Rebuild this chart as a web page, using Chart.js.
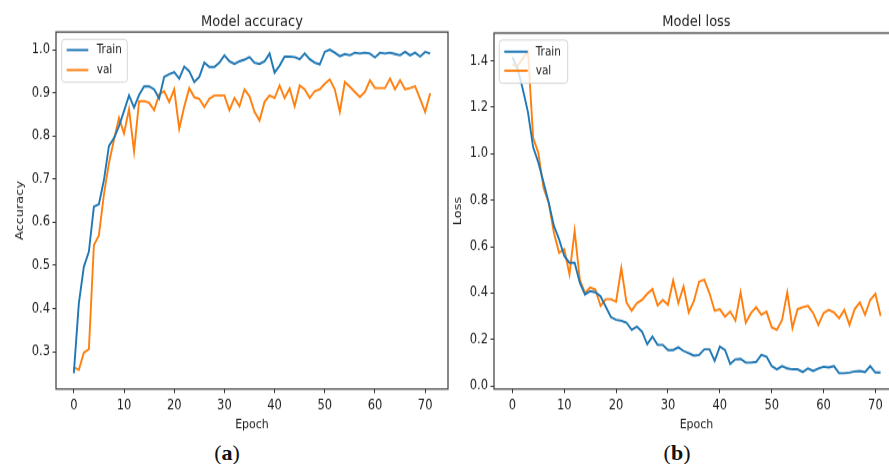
<!DOCTYPE html>
<html>
<head>
<meta charset="utf-8">
<script src="https://cdn.jsdelivr.net/npm/chart.js@4.4.0/dist/chart.umd.min.js"></script>
<style>
  html, body { margin: 0; padding: 0; background: #fff; }
  #page { position: relative; width: 889px; height: 464px; overflow: hidden; }
  #wrapA { position: absolute; left: 0; top: 0; }
  #wrapB { position: absolute; left: 445px; top: 0; }
  .cap { position: absolute; top: 442px; font-family: "Liberation Serif", "DejaVu Serif", serif;
         font-size: 22px; line-height: 22px; color: #111; transform: translateX(-50%); white-space: nowrap; }
</style>
</head>
<body>
<div id="page">
  <!-- the source figure is stretched vertically, so the canvases are too -->
  <div id="wrapA"><canvas id="accChart" width="449" height="373" style="width:449px;height:440px"></canvas></div>
  <div id="wrapB"><canvas id="lossChart" width="460" height="373" style="width:460px;height:440px"></canvas></div>
  <div class="cap" style="left:227px">(<b>a</b>)</div>
  <div class="cap" style="left:677px">(<b>b</b>)</div>
</div>
<script>
// epochs 0..71
const epochs = Array.from({ length: 72 }, (_, i) => i);
const xTicks = [0, 10, 20, 30, 40, 50, 60, 70];
const accTicks = [0.3, 0.4, 0.5, 0.6, 0.7, 0.8, 0.9, 1.0];
const lossTicks = [0.0, 0.2, 0.4, 0.6, 0.8, 1.0, 1.2, 1.4];
const seriesNames = ['Train', 'val'];

const trainAcc = [
  0.250, 0.412, 0.497, 0.532, 0.636, 0.642, 0.698, 0.777, 0.795, 0.823,
  0.858, 0.894, 0.866, 0.895, 0.915, 0.915, 0.908, 0.887, 0.937, 0.943,
  0.948, 0.933, 0.961, 0.950, 0.925, 0.937, 0.970, 0.960, 0.960, 0.970,
  0.987, 0.973, 0.967, 0.973, 0.977, 0.983, 0.970, 0.967, 0.973, 0.991,
  0.947, 0.963, 0.984, 0.984, 0.983, 0.978, 0.991, 0.978, 0.970, 0.966,
  0.995, 1.000, 0.993, 0.985, 0.990, 0.987, 0.993, 0.991, 0.993, 0.991,
  0.982, 0.993, 0.991, 0.993, 0.990, 0.987, 0.995, 0.987, 0.993, 0.984,
  0.995, 0.991
];
const valAcc = [
  0.264, 0.258, 0.298, 0.306, 0.547, 0.570, 0.665, 0.737, 0.791, 0.842,
  0.806, 0.862, 0.764, 0.880, 0.881, 0.877, 0.860, 0.896, 0.904, 0.879,
  0.908, 0.817, 0.868, 0.911, 0.890, 0.886, 0.867, 0.886, 0.894, 0.894,
  0.894, 0.860, 0.888, 0.869, 0.908, 0.892, 0.856, 0.836, 0.879, 0.894,
  0.888, 0.917, 0.888, 0.910, 0.869, 0.917, 0.908, 0.888, 0.904, 0.908,
  0.921, 0.931, 0.908, 0.856, 0.925, 0.914, 0.902, 0.890, 0.902, 0.929,
  0.911, 0.911, 0.911, 0.933, 0.908, 0.929, 0.908, 0.911, 0.915, 0.886,
  0.856, 0.899
];
const trainLoss = [
  1.416, 1.366, 1.279, 1.179, 1.028, 0.963, 0.877, 0.790, 0.690, 0.632,
  0.560, 0.531, 0.531, 0.445, 0.394, 0.409, 0.404, 0.386, 0.342, 0.297,
  0.285, 0.281, 0.273, 0.242, 0.256, 0.234, 0.180, 0.213, 0.177, 0.177,
  0.155, 0.155, 0.167, 0.151, 0.141, 0.131, 0.134, 0.158, 0.158, 0.109,
  0.170, 0.155, 0.095, 0.115, 0.117, 0.101, 0.101, 0.104, 0.134, 0.127,
  0.086, 0.072, 0.086, 0.076, 0.072, 0.072, 0.060, 0.076, 0.065, 0.076,
  0.083, 0.080, 0.086, 0.055, 0.055, 0.058, 0.063, 0.065, 0.060, 0.086,
  0.058, 0.058
];
const valLoss = [
  1.383, 1.378, 1.410, 1.440, 1.069, 1.004, 0.853, 0.789, 0.660, 0.574,
  0.589, 0.481, 0.668, 0.458, 0.400, 0.425, 0.415, 0.345, 0.374, 0.374,
  0.363, 0.508, 0.360, 0.324, 0.357, 0.371, 0.397, 0.417, 0.347, 0.371,
  0.350, 0.455, 0.357, 0.429, 0.317, 0.366, 0.450, 0.458, 0.400, 0.324,
  0.331, 0.299, 0.321, 0.282, 0.403, 0.273, 0.314, 0.340, 0.307, 0.321,
  0.253, 0.242, 0.285, 0.403, 0.250, 0.331, 0.340, 0.345, 0.314, 0.263,
  0.314, 0.328, 0.317, 0.292, 0.328, 0.263, 0.331, 0.360, 0.307, 0.371,
  0.397, 0.302
];

const BLUE = '#1f77b4';
const ORANGE = '#ff7f0e';
const FONT = 'DejaVu Sans';
const TXT = '#1c1c1c';

// axes box on all four sides, like matplotlib spines
const framePlugin = {
  id: 'frame',
  afterDatasetsDraw(chart) {
    const { ctx, chartArea: a } = chart;
    ctx.save();
    ctx.strokeStyle = '#3a3a3a';
    ctx.lineWidth = 1.2;
    ctx.strokeRect(a.left, a.top, a.right - a.left, a.bottom - a.top);
    ctx.restore();
  }
};

// legend drawn on top of the lines, inside the axes
const boxLegend = {
  id: 'boxLegend',
  afterDatasetsDraw(chart, args, o) {
    const { ctx, chartArea: a } = chart;
    const x = a.left + o.dx, y = a.top + o.dy, w = o.w, h = o.h, r = 3;
    ctx.save();
    ctx.beginPath();
    ctx.moveTo(x + r, y);
    ctx.arcTo(x + w, y, x + w, y + h, r);
    ctx.arcTo(x + w, y + h, x, y + h, r);
    ctx.arcTo(x, y + h, x, y, r);
    ctx.arcTo(x, y, x + w, y, r);
    ctx.closePath();
    ctx.globalAlpha = 0.8;
    ctx.fillStyle = '#fff';
    ctx.fill();
    ctx.globalAlpha = 1;
    ctx.strokeStyle = '#d6d6d6';
    ctx.lineWidth = 1;
    ctx.stroke();
    chart.data.datasets.forEach((ds, i) => {
      const ly = y + o.row0 + i * o.rowGap;
      ctx.strokeStyle = ds.borderColor;
      ctx.lineWidth = 1.9;
      ctx.beginPath();
      ctx.moveTo(x + o.l0, ly);
      ctx.lineTo(x + o.l1, ly);
      ctx.stroke();
      ctx.fillStyle = TXT;
      ctx.font = '10.5px "' + FONT + '"';
      ctx.textBaseline = 'middle';
      ctx.textAlign = 'left';
      ctx.fillText(ds.label, x + o.tx, ly);
    });
    ctx.restore();
  }
};

function pts(arr) {
  return epochs.map((e, i) => ({ x: e, y: arr[i] }));
}

function makeChart(id, cfg) {
  const tickFont = { family: FONT, size: 11.5 };
  const labFont = { family: FONT, size: 11 };
  const canvas = document.getElementById(id);
  const chart = new Chart(canvas, {
    type: 'line',
    data: {
      datasets: [
        { label: seriesNames[0], data: pts(cfg.train), borderColor: BLUE, backgroundColor: BLUE,
          borderWidth: 1.9, pointRadius: 0, tension: 0, fill: false },
        { label: seriesNames[1], data: pts(cfg.val), borderColor: ORANGE, backgroundColor: ORANGE,
          borderWidth: 1.9, pointRadius: 0, tension: 0, fill: false }
      ]
    },
    options: {
      responsive: false,
      animation: false,
      events: [],
      devicePixelRatio: 1,
      layout: { padding: { left: 0, top: 0, right: cfg.padRight, bottom: 0 } },
      plugins: {
        legend: { display: false },
        tooltip: { enabled: false },
        title: {
          display: true, text: cfg.title, fullSize: false, color: TXT,
          font: { family: FONT, size: 13, weight: 'normal', lineHeight: 1.2 },
          padding: { top: 10.85, bottom: cfg.titleBottom }
        },
        boxLegend: cfg.legend
      },
      scales: {
        x: {
          type: 'linear', min: -3.55, max: 74.55,
          afterBuildTicks: s => { s.ticks = xTicks.map(v => ({ value: v })); },
          afterFit: s => { s.height = 43.2; },
          ticks: { font: tickFont, color: TXT, padding: 4, maxRotation: 0, autoSkip: false,
                   callback: v => String(v) },
          grid: { display: true, drawOnChartArea: false, drawTicks: true, tickLength: 3.5,
                  color: '#333', lineWidth: 1 },
          border: { display: false },
          title: { display: true, text: 'Epoch', color: TXT, font: labFont,
                   padding: { top: 0, bottom: 6.1 } }
        },
        y: {
          type: 'linear', min: cfg.yMin, max: cfg.yMax,
          afterBuildTicks: s => { s.ticks = cfg.yTicks.map(v => ({ value: v })); },
          afterFit: s => { s.width = cfg.yWidth; },
          ticks: { font: tickFont, color: TXT, padding: 2.5, autoSkip: false,
                   callback: v => Number(v).toFixed(1) },
          grid: { display: true, drawOnChartArea: false, drawTicks: true, tickLength: 3.5,
                  color: '#333', lineWidth: 1 },
          border: { display: false },
          title: { display: true, text: cfg.yLabel, color: TXT, font: labFont,
                   padding: { top: cfg.yTitlePad, bottom: 0 } }
        }
      }
    },
    plugins: [framePlugin, boxLegend]
  });
  canvas.style.width = cfg.cssW + 'px';
  canvas.style.height = '440px';
  return chart;
}

makeChart('accChart', {
  title: 'Model accuracy', yLabel: 'Accuracy',
  train: trainAcc, val: valAcc,
  yMin: 0.2135, yMax: 1.041, yTicks: accTicks,
  yWidth: 56, yTitlePad: 14, padRight: 1, titleBottom: 0.65, cssW: 449,
  legend: { dx: 5.7, dy: 6.2, w: 65.6, h: 36.4, l0: 5, l1: 26.6, tx: 35, row0: 9.1, rowGap: 17 }
});

makeChart('lossChart', {
  title: 'Model loss', yLabel: 'Loss',
  train: trainLoss, val: valLoss,
  yMin: -0.013, yMax: 1.52, yTicks: lossTicks,
  yWidth: 49, yTitlePad: 6.4, padRight: 6, titleBottom: 1.55, cssW: 460,
  legend: { dx: 5.3, dy: 5.9, w: 68.4, h: 36.7, l0: 5, l1: 28.4, tx: 36.4, row0: 9.9, rowGap: 16.1 }
});
</script>
</body>
</html>
